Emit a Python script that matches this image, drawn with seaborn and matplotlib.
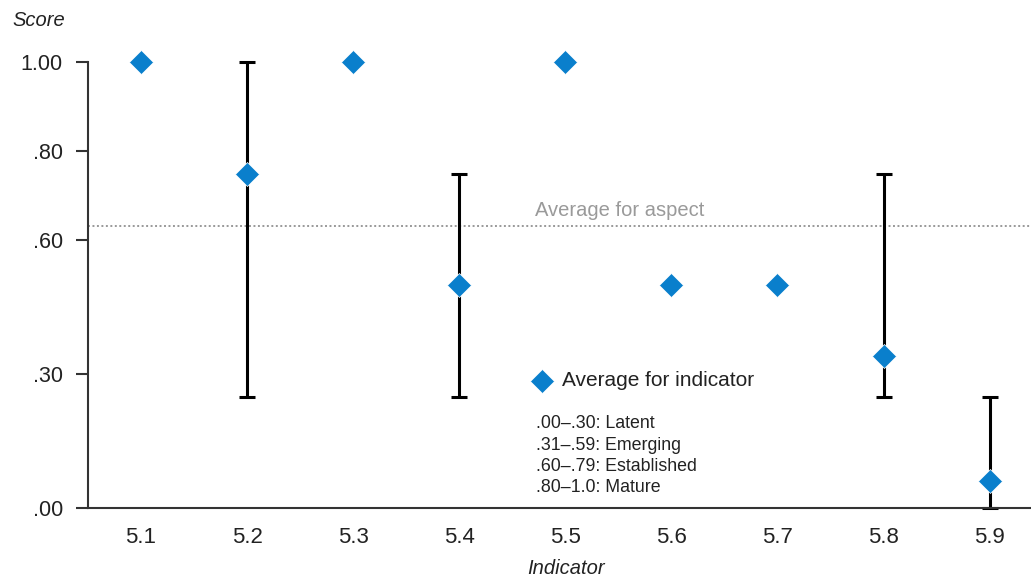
import numpy as np
import pandas as pd
import matplotlib
matplotlib.use("Agg")
import matplotlib.pyplot as plt
import seaborn as sns

indicators = ["5.1", "5.2", "5.3", "5.4", "5.5", "5.6", "5.7", "5.8", "5.9"]
averages = [1.00, 0.75, 1.00, 0.50, 1.00, 0.50, 0.50, 0.34, 0.06]
range_low = [np.nan, 0.25, np.nan, 0.25, np.nan, np.nan, np.nan, 0.25, 0.00]
range_high = [np.nan, 1.00, np.nan, 0.75, np.nan, np.nan, np.nan, 0.75, 0.25]
aspect_average = 0.632
y_ticks = [0.0, 0.30, 0.60, 0.80, 1.00]
y_tick_labels = [".00", ".30", ".60", ".80", "1.00"]
maturity_notes = [".00\u2013.30: Latent", ".31\u2013.59: Emerging",
                  ".60\u2013.79: Established", ".80\u20131.0: Mature"]

sns.set_theme(style="white")
plt.rcParams["font.family"] = ["Liberation Sans", "DejaVu Sans"]

BLUE = "#0a7fcc"
DARK = "#222222"

fig = plt.figure(figsize=(10.31, 5.77), dpi=100)
ax = fig.add_axes([88 / 1031, 1 - 508 / 577, 1 - 88 / 1031, (508 - 62) / 577])

df = pd.DataFrame({"indicator": indicators, "average": averages,
                   "low": range_low, "high": range_high})

pos = np.arange(len(indicators))
avg = np.array(averages)
lo = np.array(range_low)
hi = np.array(range_high)
ax.errorbar(pos, avg, yerr=[avg - lo, hi - avg], fmt="none", ecolor="black",
            elinewidth=2.2, capsize=6, capthick=2.2, zorder=2, clip_on=False)

sns.scatterplot(data=df, x="indicator", y="average", marker="D", s=150,
                color=BLUE, edgecolor="white", linewidth=0.5, ax=ax, zorder=3,
                clip_on=False, label="Average for indicator")

ax.axhline(aspect_average, color="#999999", linestyle=(0, (1, 1.3)), linewidth=1.4, zorder=1)
fig.text(535 / 1031, 1 - 211 / 577, "Average for aspect", fontsize=14.5,
         color="#9a9a9a", va="center", ha="left")

ax.set_xlim(-0.5, len(indicators) - 1 + 0.39)
ax.set_ylim(0, 1.0)
ax.set_yticks(y_ticks)
ax.set_yticklabels(y_tick_labels)
ax.set_xlabel("")
ax.set_ylabel("")

for side in ["top", "right"]:
    ax.spines[side].set_visible(False)
for side in ["left", "bottom"]:
    ax.spines[side].set_color("#333333")
    ax.spines[side].set_linewidth(1.5)

ax.tick_params(axis="y", length=9, width=1.5, color="#333333", pad=9,
               labelsize=15.5, labelcolor=DARK, left=True)
ax.tick_params(axis="x", length=0, pad=14, labelsize=16, labelcolor=DARK)

fig.text(12 / 1031, 1 - 21 / 577, "Score", fontsize=14.5, style="italic",
         color=DARK, va="center", ha="left")
fig.text(566 / 1031, 1 - 568 / 577, "Indicator", fontsize=14.5, style="italic",
         color=DARK, va="center", ha="center")

leg = ax.legend(loc="center left", bbox_to_anchor=(532 / 1031, 1 - 381 / 577),
                bbox_transform=fig.transFigure, frameon=False, fontsize=15,
                handlelength=1.0, handletextpad=0.45, borderpad=0, borderaxespad=0)
for t in leg.get_texts():
    t.set_color(DARK)

for i, note in enumerate(maturity_notes):
    fig.text(536 / 1031, 1 - (424 + i * 21.3) / 577, note, fontsize=12.8,
             family=["Liberation Sans Narrow", "Liberation Sans", "DejaVu Sans"],
             color=DARK, va="center", ha="left")

fig.savefig("out.png", dpi=100)
